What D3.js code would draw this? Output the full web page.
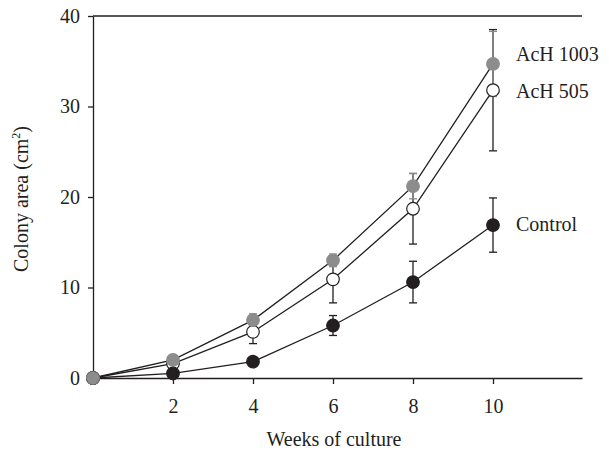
<!DOCTYPE html>
<html>
<head>
<style>
  body { margin: 0; background: #fff; }
  text { font-family: "Liberation Serif", "DejaVu Serif", serif; fill: #231f20; }
</style>
</head>
<body>
<div id="chart"></div>
<script src="https://cdnjs.cloudflare.com/ajax/libs/d3/7.8.5/d3.min.js"></script>
<script>
// weeks of culture
const weeks = [0, 2, 4, 6, 8, 10];

// colony area (cm2) and error
const control = [0, 0.5, 1.8, 5.8, 10.6, 16.9];
const controlErr = [0, 0, 0, 1.1, 2.3, 3.0];
const ach505 = [0, 1.6, 5.1, 10.9, 18.7, 31.8];
const ach505Err = [0, 0, 1.3, 2.6, 3.9, 6.7];
const ach1003 = [0, 2.0, 6.4, 13.0, 21.2, 34.7];
const ach1003Err = [0, 0, 0.7, 0.7, 1.4, 3.6];

const xTicks = [2, 4, 6, 8, 10];
const yTicks = [0, 10, 20, 30, 40];

const width = 609, height = 452;
const svg = d3.select("#chart").append("svg")
    .attr("width", width)
    .attr("height", height);

const x = d3.scaleLinear().domain([0, 12.225]).range([93, 582]);
const y = d3.scaleLinear().domain([0, 40]).range([378, 16]);

// frame: top line
svg.append("line")
    .attr("x1", x(0)).attr("x2", x(12.225))
    .attr("y1", y(40)).attr("y2", y(40))
    .attr("stroke", "#231f20").attr("stroke-width", 1.3);

const xAxis = svg.append("g")
    .attr("transform", `translate(0,${y(0)})`)
    .call(d3.axisBottom(x).tickValues(xTicks).tickSize(6).tickPadding(15).tickSizeOuter(0));
const yAxis = svg.append("g")
    .attr("transform", `translate(${x(0)},0)`)
    .call(d3.axisLeft(y).tickValues(yTicks).tickSize(5).tickPadding(8).tickSizeOuter(0));

[xAxis, yAxis].forEach(a => {
    a.select(".domain").attr("stroke", "#231f20").attr("stroke-width", 1.3);
    a.selectAll(".tick line").attr("stroke", "#231f20").attr("stroke-width", 1.3);
    a.selectAll("text").attr("font-size", 20).attr("font-family", "Liberation Serif").attr("fill", "#231f20");
});

svg.append("text")
    .attr("x", 334).attr("y", 446)
    .attr("text-anchor", "middle")
    .attr("font-size", 20)
    .text("Weeks of culture");

const yl = svg.append("text")
    .attr("transform", "translate(28,199) rotate(-90)")
    .attr("text-anchor", "middle")
    .attr("font-size", 20);
yl.append("tspan").text("Colony area (cm");
yl.append("tspan").attr("font-size", 12).attr("dy", -8).text("2");
yl.append("tspan").attr("dy", 8).text(")");

const series = [
    { name: "AcH 505", vals: ach505, err: ach505Err, fill: "#fff", stroke: "#231f20", errColor: "#231f20", labelY: 98 },
    { name: "AcH 1003", vals: ach1003, err: ach1003Err, fill: "#8c8c8c", stroke: "#8c8c8c", errColor: "#8c8c8c", labelY: 61 },
    { name: "Control", vals: control, err: controlErr, fill: "#231f20", stroke: "#231f20", errColor: "#231f20", labelY: 231 }
];

const line = d3.line().x((d, i) => x(weeks[i])).y(d => y(d));

// error bars first
series.forEach(s => {
    const g = svg.append("g").attr("stroke", s.errColor).attr("stroke-width", 1.3);
    weeks.forEach((w, i) => {
        if (!s.err[i]) return;
        const lo = s.vals[i] - s.err[i], hi = s.vals[i] + s.err[i];
        g.append("line").attr("x1", x(w)).attr("x2", x(w)).attr("y1", y(lo)).attr("y2", y(hi));
        [lo, hi].forEach(v => g.append("line")
            .attr("x1", x(w) - 4).attr("x2", x(w) + 4)
            .attr("y1", y(v)).attr("y2", y(v)));
    });
});

// lines
series.forEach(s => {
    svg.append("path")
        .attr("d", line(s.vals))
        .attr("fill", "none")
        .attr("stroke", "#231f20")
        .attr("stroke-width", 1.3);
});

// markers
series.forEach(s => {
    svg.append("g").selectAll("circle")
        .data(s.vals)
        .join("circle")
        .attr("cx", (d, i) => x(weeks[i]))
        .attr("cy", d => y(d))
        .attr("r", 6.3)
        .attr("fill", s.fill)
        .attr("stroke", s.stroke)
        .attr("stroke-width", 1.2);
    svg.append("text")
        .attr("x", 516).attr("y", s.labelY)
        .attr("font-size", 20)
        .text(s.name);
});

// origin point drawn gray on top, as in the original
svg.append("circle")
    .attr("cx", x(weeks[0])).attr("cy", y(ach1003[0]))
    .attr("r", 6.3).attr("fill", "#8c8c8c").attr("stroke", "#8c8c8c");
</script>
</body>
</html>
